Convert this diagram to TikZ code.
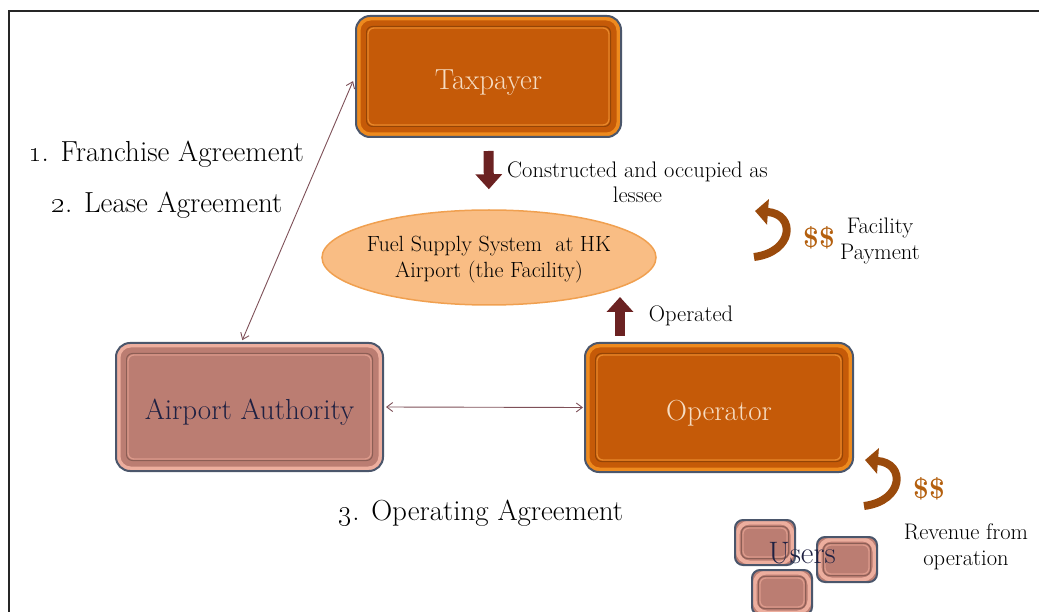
\RequirePackage{fix-cm}
\documentclass[tikz,border=0pt]{standalone}
\usetikzlibrary{arrows.meta,positioning,shapes.geometric}

\definecolor{orface}{HTML}{C55A08}
\definecolor{orrim}{HTML}{EE8A1E}
\definecolor{orline}{HTML}{E8882A}
\definecolor{ortext}{HTML}{F6DCC2}
\definecolor{pkface}{HTML}{BB7D72}
\definecolor{pkrim}{HTML}{EDAE9E}
\definecolor{pkline}{HTML}{DC9A8B}
\definecolor{pktext}{HTML}{1F2142}
\definecolor{rimedge}{HTML}{4B566B}
\definecolor{fuelfill}{HTML}{F9BD84}
\definecolor{fueldraw}{HTML}{F0A050}
\definecolor{blockred}{HTML}{6B2222}
\definecolor{thinline}{HTML}{7E5058}
\definecolor{payarrow}{HTML}{9A4A0C}
\definecolor{dollar}{HTML}{B4600F}

\newcommand\lblbig{\fontsize{29}{34}\selectfont}
\newcommand\lblsmall{\fontsize{22.5}{25.5}\selectfont}

\begin{document}
\begin{tikzpicture}[x=1pt,y=-1pt,>={Straight Barb[length=6pt,width=9pt]},
  bevel/.style n args={4}{rectangle,draw=rimedge,line width=2pt,fill=#1,
    path picture={
      \draw[#2,line width=4pt,rounded corners=12pt]
        ([shift={(2.5pt,-2.5pt)}]path picture bounding box.north west) rectangle
        ([shift={(-2.5pt,2.5pt)}]path picture bounding box.south east);
      \draw[#1!75!black,line width=1pt,rounded corners=6pt]
        ([shift={(#4-1.5pt,-#4+1.5pt)}]path picture bounding box.north west) rectangle
        ([shift={(-#4+1.5pt,#4-1.5pt)}]path picture bounding box.south east);
      \draw[#3,line width=1.3pt,rounded corners=6pt]
        ([shift={(#4,-#4)}]path picture bounding box.north west) rectangle
        ([shift={(-#4,#4)}]path picture bounding box.south east);
    }},
  orangebox/.style={bevel={orface}{orrim}{orline}{12pt},rounded corners=14pt,
    minimum width=265pt,minimum height=121pt,text=ortext,font=\lblbig,
    text height=26pt,text depth=0pt},
  pinkbox/.style={bevel={pkface}{pkrim}{pkline}{12pt},rounded corners=14pt,
    minimum width=267pt,minimum height=128pt,text=pktext,font=\lblbig,
    text height=25pt,text depth=0pt},
  userbox/.style={bevel={pkface}{pkrim}{pkline}{8pt},rounded corners=8pt,
    minimum width=60pt,minimum height=45pt},
  facility/.style={ellipse,fill=fuelfill,draw=fueldraw,line width=1.5pt,
    minimum width=334pt,minimum height=95pt,inner sep=0pt},
  bigtext/.style={font=\lblbig,text=black,inner sep=0pt},
  smalltext/.style={font=\lblsmall,text=black,align=center,inner sep=0pt},
  dollars/.style={font=\fontsize{28}{30}\selectfont\bfseries,text=dollar,inner sep=0pt},
  agreement/.style={<->,thinline,line width=0.9pt},
  blockarrow/.style={blockred,line width=10pt,-{Triangle[length=15pt,width=26pt]}},
  paid/.style={payarrow,line width=8pt,-{Triangle[length=13pt,width=25pt]}}]

\useasboundingbox (0,0) rectangle (1039,612);
\draw[line width=2.5pt,black!85] (9,612) |- (1039,11);

% parties
\node[orangebox] (taxpayer) at (488.5,76.5) {Taxpayer};
\node[pinkbox] (authority) at (249.5,407) {Airport Authority};
\node[orangebox,minimum width=268pt,minimum height=129pt,text height=25pt] (operator) at (719,407.5) {Operator};
\node[facility,label={[smalltext,font=\fontsize{22}{26}\selectfont,yshift=-2pt]center:{Fuel Supply System~ at HK\\Airport (the Facility)}}] (fuel) at (489,257.5) {};

% agreements
\draw[agreement,shorten <=5pt,shorten >=2pt] (taxpayer.west) -- ([xshift=-8pt]authority.north);
\draw[agreement,shorten <=2pt,shorten >=1pt] (authority.east) -- (operator.west);
\node[bigtext] (franchise) at (166,154) {\oldstylenums{1}. Franchise Agreement};
\node[bigtext] (lease) at (167,205) {\oldstylenums{2}. Lease Agreement};
\node[bigtext] (opagree) at (481,513) {\oldstylenums{3}. Operating Agreement};

% construction and operation
\draw[blockarrow,shorten <=13pt,shorten >=20pt] (taxpayer.south) -- (fuel.north);
\node[smalltext] (built) at (637.5,182) {Constructed and occupied as\\lessee};
\coordinate (opin) at ([xshift=-99pt,yshift=6pt]operator.north);
\draw[blockarrow] (opin) -- ++(0,-39);
\node[smalltext] (operated) at (691,316) {Operated};

% payments
\coordinate (pay1) at (754,257);
\draw[paid] (pay1) .. controls (794,252) and (796,214) .. (755,211);
\node[dollars] (pay1usd) at (819,238) {\$\$};
\node[smalltext] (facpay) at (880,241) {Facility\\Payment};
\coordinate (pay2) at (864,506);
\draw[paid] (pay2) .. controls (904,501) and (906,463) .. (865,460);
\node[dollars] (pay2usd) at (929,489) {\$\$};
\node[smalltext] (revenue) at (966,547) {Revenue from\\operation};

% users
\node[userbox] (user1) at (765,542.5) {};
\node[userbox] (user3) at (782,592.5) {};
\node[userbox] (user2) at (847,559.5) {};
\node[bigtext,text=pktext,font=\fontsize{31}{34}\selectfont] (users) at (802,553) {Users};
\end{tikzpicture}
\end{document}
